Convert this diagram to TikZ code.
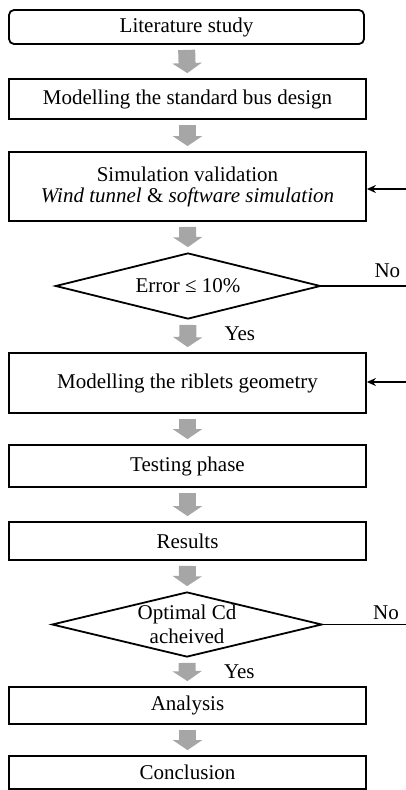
\documentclass[tikz,border=0pt]{standalone}
\usepackage{fontspec}
\setmainfont{Liberation Serif}
\usetikzlibrary{arrows.meta,shapes.geometric}

\begin{document}
\begin{tikzpicture}[x=1pt,y=-1pt,>=Stealth,
  every node/.style={font=\fontsize{21}{24}\selectfont},
  stage/.style={draw,line width=1.8pt,minimum width=357pt,inner sep=0pt},
  check/.style={draw,diamond,aspect=4,line width=1.8pt,minimum width=265pt,minimum height=66pt,inner sep=0pt,align=center},
  flow/.style={line width=17pt,draw=black!35,-{Triangle[width=29pt,length=10pt]},shorten <=5pt,shorten >=5pt},
  back/.style={line width=1.2pt,-{Stealth[length=9pt,width=8pt]}},
  yes/.style={right=25pt}]
  \useasboundingbox (0,0) rectangle (406,790);
  \node[stage,rounded corners=5pt,minimum width=355pt,minimum height=34pt] (lit) at (186.5,27) {Literature study};
  \node[stage,minimum height=40pt] (bus) at (187.5,99) {Modelling the standard bus design};
  \node[stage,minimum height=69pt,align=center,font=\fontsize{21}{21}\selectfont] (sim) at (187.5,186.5) {Simulation validation\\\textit{Wind tunnel} \& \textit{software simulation}};
  \node[check] (err) at (188,286) {Error ≤ 10\%};
  \node[stage,minimum height=60pt] (rib) at (187.5,383) {Modelling the riblets geometry};
  \node[stage,minimum height=42pt] (test) at (187.5,466) {Testing phase};
  \node[stage,minimum height=38pt] (res) at (187.5,541) {Results};
  \node[check,minimum width=270pt,minimum height=65pt] (cd) at (187,624.5) {Optimal Cd\\acheived};
  \node[stage,minimum height=37pt] (ana) at (187.5,705.5) {Analysis};
  \node[stage,minimum height=33pt] (con) at (187.5,772.5) {Conclusion};
  % grey block arrows
  \foreach \a/\b in {lit/bus,bus/sim,sim/err,rib/test,test/res,res/cd,ana/con}
    \draw[flow] (\a.south) -- (\b.north);
  \draw[flow] (err.south) -- node[yes,yshift=2pt] {Yes} (rib.north);
  \draw[flow] (cd.south) -- node[yes] {Yes} (ana.north);
  % loops back
  \coordinate (fb1) at (406,189);
  \coordinate (fb2) at (406,382);
  \draw[back] (fb1) -- (fb1 -| sim.east);
  \draw[back] (fb2) -- (fb2 -| rib.east);
  \draw[line width=1.2pt] (err.east) -- (err.east -| fb1) node[pos=.78,above=4pt] {No};
  \draw[line width=1.2pt] (cd.east) -- (cd.east -| fb1) node[pos=.76,above=1pt] {No};
\end{tikzpicture}
\end{document}
